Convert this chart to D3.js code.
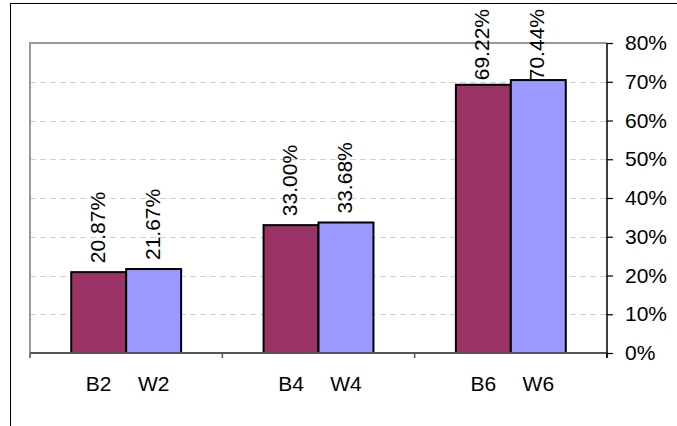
<!DOCTYPE html>
<html>
<head>
<meta charset="utf-8">
<script src="https://cdn.jsdelivr.net/npm/d3@7"></script>
<style>
  html, body { margin: 0; padding: 0; background: #fff; }
  svg { display: block; font-family: "Liberation Sans", Arial, sans-serif; }
</style>
</head>
<body>
<svg id="chart" width="677" height="426"></svg>
<script>
// Groups along the x axis and the two series drawn in each group
const groups = ["2", "4", "6"];
const seriesNames = ["B", "W"];
const seriesB = [20.87, 33.00, 69.22];
const seriesW = [21.67, 33.68, 70.44];
const yTicks = [0, 10, 20, 30, 40, 50, 60, 70, 80];
const colors = { B: "#993366", W: "#9999FF" };

const W = 677, H = 426;
const plot = { left: 30, right: 607, top: 43, bottom: 353 };
const fontSize = 21;

const svg = d3.select("#chart");

// Outer chart frame
svg.append("rect")
  .attr("x", 10.5).attr("y", 3.5)
  .attr("width", W + 10).attr("height", H + 10)
  .attr("fill", "none").attr("stroke", "#000").attr("stroke-width", 1);

const x0 = d3.scaleBand().domain(groups).range([plot.left, plot.right])
  .paddingInner(0).paddingOuter(0);
const x1 = d3.scaleBand().domain(seriesNames).range([0, x0.bandwidth()])
  .paddingInner(0).paddingOuter(0.75);
const y = d3.scaleLinear().domain([0, 80]).range([plot.bottom, plot.top]);

const rows = groups.map((g, i) => ({ group: g, B: seriesB[i], W: seriesW[i] }));

// Dashed gridlines
svg.append("g").selectAll("line")
  .data(yTicks.filter(t => t > 0 && t < 80))
  .join("line")
  .attr("x1", plot.left).attr("x2", plot.right)
  .attr("y1", d => Math.round(y(d)) + 0.5).attr("y2", d => Math.round(y(d)) + 0.5)
  .attr("stroke", "#d0d0d0").attr("stroke-width", 1)
  .attr("stroke-dasharray", "6,4");

// Plot area border (top and left)
svg.append("path")
  .attr("d", `M${plot.left},${plot.bottom} V${plot.top} H${plot.right}`)
  .attr("fill", "none").attr("stroke", "#999").attr("stroke-width", 2);

// Bars
const gGroups = svg.append("g").selectAll("g")
  .data(rows).join("g")
  .attr("transform", d => `translate(${x0(d.group)},0)`);

gGroups.selectAll("rect")
  .data(d => seriesNames.map(s => ({ s, v: d[s], group: d.group })))
  .join("rect")
  .attr("x", d => x1(d.s))
  .attr("y", d => y(d.v))
  .attr("width", x1.bandwidth())
  .attr("height", d => y(0) - y(d.v))
  .attr("fill", d => colors[d.s])
  .attr("stroke", "#000").attr("stroke-width", 2);

// Value labels, rotated, kept inside the frame for tall bars
const labelTopLimit = 9;
gGroups.selectAll("text.val")
  .data(d => seriesNames.map(s => ({ s, v: d[s] })))
  .join("text")
  .attr("class", "val")
  .attr("font-size", fontSize)
  .attr("fill", "#000")
  .text(d => d.v.toFixed(2) + "%")
  .each(function (d) {
    const len = this.getComputedTextLength();
    const start = Math.max(y(d.v) - 9, labelTopLimit + len);
    const cx = x1(d.s) + x1.bandwidth() / 2 + 6;
    d3.select(this).attr("transform", `translate(${cx},${start}) rotate(-90)`);
  });

// Bar names under each bar
gGroups.selectAll("text.cat")
  .data(d => seriesNames.map(s => ({ s, group: d.group })))
  .join("text")
  .attr("class", "cat")
  .attr("font-size", fontSize)
  .attr("text-anchor", "middle")
  .attr("x", d => x1(d.s) + x1.bandwidth() / 2)
  .attr("y", plot.bottom + 38)
  .text(d => d.s + d.group);

// Bottom axis line and group boundary ticks
const xAxis = svg.append("g");
xAxis.append("line")
  .attr("x1", plot.left).attr("x2", plot.right)
  .attr("y1", plot.bottom).attr("y2", plot.bottom)
  .attr("stroke", "#555").attr("stroke-width", 2);
xAxis.selectAll("line.tick")
  .data(groups.map(g => x0(g)).concat([plot.right]))
  .join("line")
  .attr("class", "tick")
  .attr("x1", d => d).attr("x2", d => d)
  .attr("y1", plot.bottom).attr("y2", plot.bottom + 5)
  .attr("stroke", "#555").attr("stroke-width", 1.5);

// Right value axis
const yAxis = svg.append("g")
  .attr("transform", `translate(${plot.right},0)`)
  .call(d3.axisRight(y).tickValues(yTicks).tickSize(6).tickPadding(12)
    .tickFormat(d => d + "%"));
yAxis.select(".domain").attr("stroke", "#000").attr("stroke-width", 1.5)
  .attr("d", `M0,${plot.top}V${plot.bottom + 5}`);
yAxis.selectAll(".tick line").attr("stroke", "#000").attr("stroke-width", 1.2);
yAxis.selectAll(".tick text")
  .attr("font-size", fontSize)
  .attr("font-family", "'Liberation Sans', Arial, sans-serif")
  .attr("fill", "#000");
</script>
</body>
</html>
